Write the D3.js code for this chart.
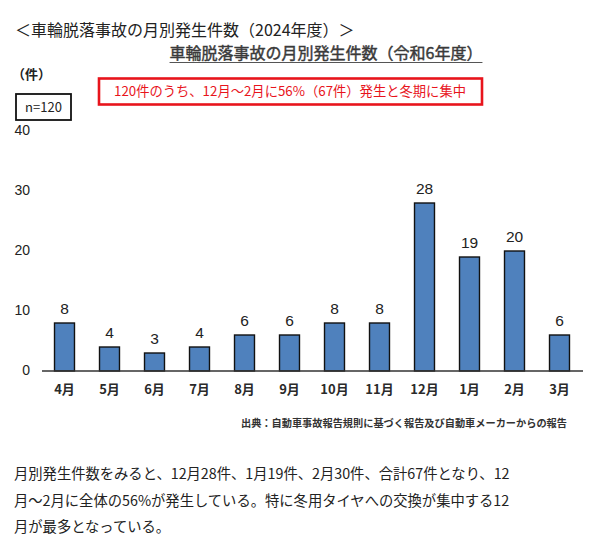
<!DOCTYPE html>
<html>
<head>
<meta charset="utf-8">
<script src="https://cdn.jsdelivr.net/npm/d3@7"></script>
<style>
  body { margin: 0; background: #fff; }
  svg { display: block; font-family: "Noto Sans CJK JP", "Noto Sans", sans-serif; }
</style>
</head>
<body>
<div id="chart"></div>
<script>
// Data
const months = ["4月", "5月", "6月", "7月", "8月", "9月", "10月", "11月", "12月", "1月", "2月", "3月"];
const counts = [8, 4, 3, 4, 6, 6, 8, 8, 28, 19, 20, 6];
const yTicks = [0, 10, 20, 30, 40];

const headerText = "＜車輪脱落事故の月別発生件数（2024年度）＞";
const titleText = "車輪脱落事故の月別発生件数（令和6年度）";
const noteText = "120件のうち、12月～2月に56%（67件）発生と冬期に集中";
const sourceText = "出典：自動車事故報告規則に基づく報告及び自動車メーカーからの報告";
const bodyLines = [
    "月別発生件数をみると、12月28件、1月19件、2月30件、合計67件となり、12",
    "月～2月に全体の56%が発生している。特に冬用タイヤへの交換が集中する12",
    "月が最多となっている。"
];

const W = 599, H = 557;

const svg = d3.select("#chart")
    .append("svg")
    .attr("width", W)
    .attr("height", H);

// Scales
const x = d3.scaleBand()
    .domain(months)
    .range([42, 582])
    .paddingInner(0.556)
    .paddingOuter(0.278);

const y = d3.scaleLinear()
    .domain([0, 40])
    .range([371, 131]);

// Header above the figure
svg.append("text")
    .attr("x", 15)
    .attr("y", 36)
    .style("font-size", "16px")
    .style("fill", "#222")
    .text(headerText);

// Chart title, underlined
const title = svg.append("text")
    .attr("x", 326)
    .attr("y", 59)
    .attr("text-anchor", "middle")
    .style("font-size", "16px")
    .style("fill", "#3a3a3a")
    .style("stroke", "#3a3a3a")
    .style("stroke-width", "0.45px")
    .text(titleText);
const tb = title.node().getBBox();
svg.append("line")
    .attr("x1", tb.x).attr("x2", tb.x + tb.width)
    .attr("y1", 62.5).attr("y2", 62.5)
    .attr("stroke", "#555")
    .attr("stroke-width", 1.2);

// Unit label
svg.append("text")
    .attr("x", 12)
    .attr("y", 79)
    .style("font-size", "13px")
    .style("font-weight", "bold")
    .style("fill", "#222")
    .text("（件）");

// n=120 box
svg.append("rect")
    .attr("x", 16).attr("y", 94)
    .attr("width", 55).attr("height", 26)
    .attr("fill", "#fff")
    .attr("stroke", "#111")
    .attr("stroke-width", 1.8);
svg.append("text")
    .attr("x", 43.5)
    .attr("y", 108)
    .attr("text-anchor", "middle")
    .attr("dominant-baseline", "middle")
    .style("font-size", "13px")
    .style("fill", "#222")
    .text("n=120");

// Red note box
svg.append("rect")
    .attr("x", 99).attr("y", 78.5)
    .attr("width", 383).attr("height", 26)
    .attr("fill", "#fff")
    .attr("stroke", "#e8141c")
    .attr("stroke-width", 2.6);
svg.append("text")
    .attr("x", 290)
    .attr("y", 92)
    .attr("text-anchor", "middle")
    .attr("dominant-baseline", "middle")
    .style("font-size", "13.3px")
    .style("fill", "#e8141c")
    .text(noteText);

// Y tick labels (no axis line)
svg.append("g")
    .selectAll("text")
    .data(yTicks)
    .join("text")
    .attr("x", 30)
    .attr("y", d => y(d))
    .attr("text-anchor", "end")
    .attr("dominant-baseline", "middle")
    .style("font-family", "'Liberation Sans', Arial, sans-serif")
    .style("font-size", "14px")
    .style("fill", "#222")
    .text(d => d);

// Bars
svg.append("g")
    .selectAll("rect")
    .data(counts)
    .join("rect")
    .attr("x", (d, i) => x(months[i]))
    .attr("y", d => y(d))
    .attr("width", x.bandwidth())
    .attr("height", d => y(0) - y(d))
    .attr("fill", "#4f81bd")
    .attr("stroke", "#111")
    .attr("stroke-width", 1.4);

// Value labels
svg.append("g")
    .selectAll("text")
    .data(counts)
    .join("text")
    .attr("x", (d, i) => x(months[i]) + x.bandwidth() / 2)
    .attr("y", d => y(d) - 9)
    .attr("text-anchor", "middle")
    .style("font-family", "'Liberation Sans', Arial, sans-serif")
    .style("font-size", "15.5px")
    .style("fill", "#222")
    .text(d => d);

// Baseline
svg.append("line")
    .attr("x1", 42).attr("x2", 583)
    .attr("y1", y(0)).attr("y2", y(0))
    .attr("stroke", "#333")
    .attr("stroke-width", 1.6);

// X axis labels
const xAxis = d3.axisBottom(x).tickSize(0).tickPadding(10);
const gx = svg.append("g")
    .attr("transform", `translate(0,${y(0) + 4})`)
    .call(xAxis);
gx.select(".domain").remove();
gx.selectAll("text")
    .style("font-family", "'Noto Sans CJK JP', sans-serif")
    .style("font-size", "13px")
    .style("font-weight", "bold")
    .style("fill", "#2a2a2a");

// Source
svg.append("text")
    .attr("x", 567)
    .attr("y", 427)
    .attr("text-anchor", "end")
    .style("font-size", "10.2px")
    .style("font-weight", "bold")
    .style("fill", "#333")
    .text(sourceText);

// Body paragraph
svg.append("g")
    .selectAll("text")
    .data(bodyLines)
    .join("text")
    .attr("x", 14)
    .attr("y", (d, i) => 479 + i * 26.5)
    .style("font-size", "14.3px")
    .style("fill", "#222")
    .text(d => d);
</script>
</body>
</html>
